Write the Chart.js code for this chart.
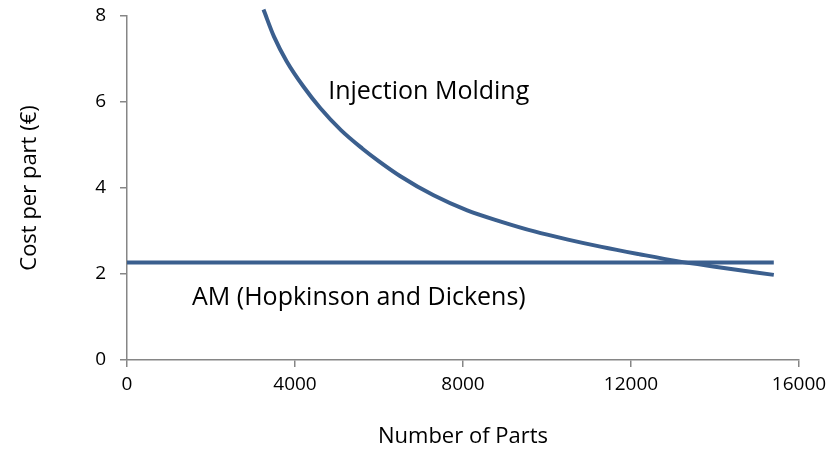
<!DOCTYPE html>
<html>
<head>
<meta charset="utf-8">
<script src="https://cdn.jsdelivr.net/npm/chart.js@4/dist/chart.umd.min.js"></script>
<style>
  html, body { margin: 0; padding: 0; background: #fff; }
  #wrap { width: 828px; height: 463px; }
</style>
</head>
<body>
<div id="wrap"><canvas id="cost-chart" width="828" height="463"></canvas></div>
<script>
// Data

const parts = [3250, 3500, 3800, 4200, 4600, 5100, 5600, 6000, 6500, 7300, 8100, 8900, 9700, 10500, 11300, 12200, 13100, 14000, 15400];
const injectionCost = [8.15, 7.52, 6.95, 6.36, 5.86, 5.34, 4.92, 4.62, 4.28, 3.83, 3.48, 3.22, 2.99, 2.80, 2.63, 2.46, 2.30, 2.17, 1.98];
const amParts = [0, 15400];
const amCost = [2.27, 2.27];
const xTicks = [0, 4000, 8000, 12000, 16000];
const yTicks = [0, 2, 4, 6, 8];

const lineColor = '#3b5f8e';
const axisColor = '#868686';
const font = "'Open Sans', 'DejaVu Sans', sans-serif";

// Series labels placed in data coordinates
const seriesLabels = [
    { text: 'Injection Molding', x: 4790, y: 6.08 },
    { text: 'AM (Hopkinson and Dickens)', x: 1548, y: 1.28 }
];

const toPoints = (xs, ys) => xs.map((x, i) => ({ x: x, y: ys[i] }));

const labelPlugin = {
    id: 'seriesLabels',
    afterDatasetsDraw(chart) {
        const ctx = chart.ctx;
        const sx = chart.scales.x, sy = chart.scales.y;
        ctx.save();
        ctx.font = '25px ' + font;
        ctx.fillStyle = '#000';
        ctx.textAlign = 'left';
        ctx.textBaseline = 'alphabetic';
        seriesLabels.forEach(l => {
            ctx.fillText(l.text, sx.getPixelForValue(l.x), sy.getPixelForValue(l.y));
        });
        ctx.restore();
    }
};

const costChart = document.getElementById('cost-chart');

new Chart(costChart, {
    type: 'scatter',
    data: {
        datasets: [{
            label: 'Injection Molding',
            data: toPoints(parts, injectionCost),
            showLine: true,
            borderColor: lineColor,
            borderWidth: 4,
            pointRadius: 0,
            cubicInterpolationMode: 'monotone',
            clip: false
        }, {
            label: 'AM (Hopkinson and Dickens)',
            data: toPoints(amParts, amCost),
            showLine: true,
            borderColor: lineColor,
            borderWidth: 4,
            pointRadius: 0,
            clip: false
        }]
    },
    options: {
        responsive: false,
        animation: false,
        layout: {
            padding: { left: 0, top: 16, right: 29, bottom: 0 }
        },
        plugins: {
            legend: { display: false },
            tooltip: { enabled: false }
        },
        scales: {
            x: {
                type: 'linear',
                min: 0,
                max: 16000,
                afterBuildTicks: scale => { scale.ticks = xTicks.map(v => ({ value: v })); },
                afterFit: scale => {
                    scale.height = 103;
                    scale.paddingLeft = 0;
                    scale.paddingRight = 0;
                },
                border: { color: axisColor, width: 1.5 },
                grid: { drawOnChartArea: false, tickLength: 7, color: axisColor, lineWidth: 1.5 },
                ticks: {
                    padding: 6,
                    color: '#000',
                    font: { family: font, size: 19 },
                    maxRotation: 0,
                    callback: v => String(v)
                },
                title: {
                    display: true,
                    text: 'Number of Parts',
                    color: '#000',
                    font: { family: font, size: 22 },
                    padding: { top: 0, bottom: 13 }
                }
            },
            y: {
                min: 0,
                max: 8,
                afterBuildTicks: scale => { scale.ticks = yTicks.map(v => ({ value: v })); },
                afterFit: scale => {
                    scale.width = 127;
                    scale.paddingTop = 0;
                    scale.paddingBottom = 0;
                },
                border: { color: axisColor, width: 1.5 },
                grid: { drawOnChartArea: false, tickLength: 7, color: axisColor, lineWidth: 1.5 },
                ticks: {
                    padding: 14,
                    color: '#000',
                    font: { family: font, size: 19 }
                },
                title: {
                    display: true,
                    text: 'Cost per part (€)',
                    color: '#000',
                    font: { family: font, size: 22 },
                    padding: { top: 17, bottom: 0 }
                }
            }
        }
    },
    plugins: [labelPlugin]
});
</script>
</body>
</html>
